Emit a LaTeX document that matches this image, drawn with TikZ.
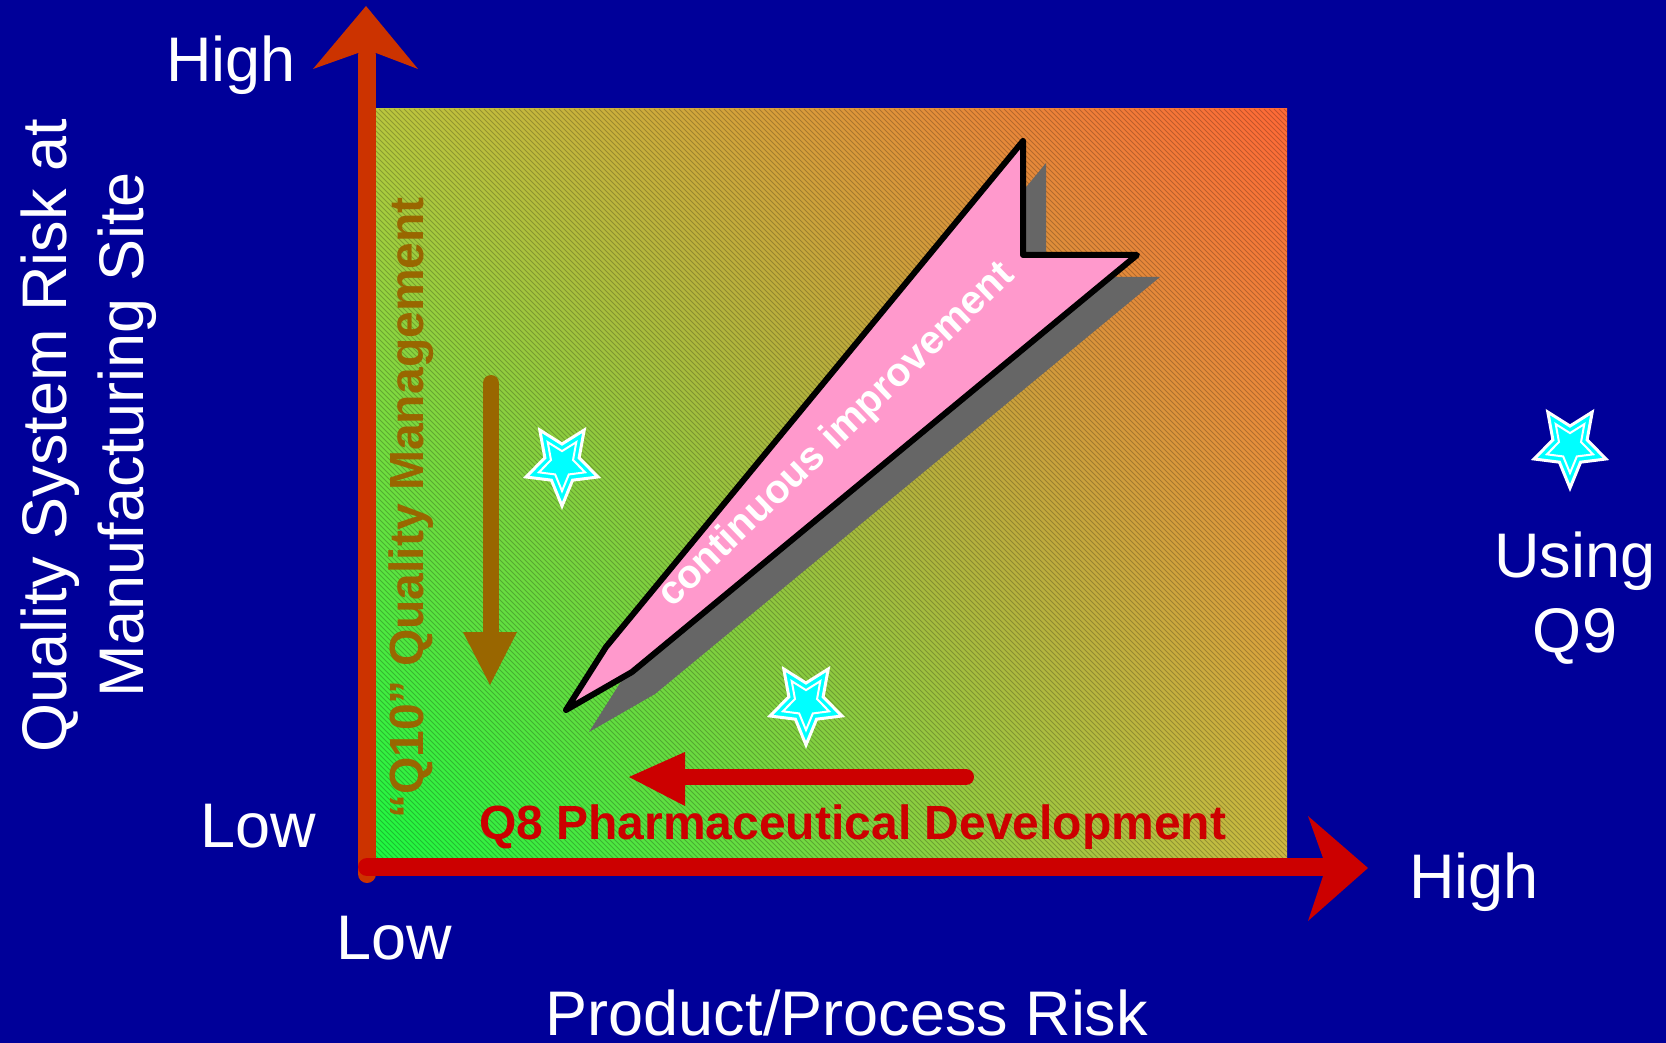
\documentclass[tikz,border=0pt]{standalone}
\usepackage{fontspec}
\setmainfont{Liberation Sans}
\usetikzlibrary{shadings}
\definecolor{navybg}{RGB}{0,0,153}
\definecolor{axisorange}{RGB}{204,51,0}
\definecolor{axisred}{RGB}{204,0,0}
\definecolor{qbrown}{RGB}{153,102,0}
\definecolor{ciPink}{RGB}{255,153,204}
\definecolor{shadowgray}{RGB}{102,102,102}
\definecolor{starcyan}{RGB}{0,255,255}
\definecolor{gLL}{RGB}{25,250,65}
\definecolor{gUL}{RGB}{185,200,62}
\definecolor{gUR}{RGB}{255,105,55}
\definecolor{gLR}{RGB}{205,185,65}
\begin{document}
\begin{tikzpicture}[x=1pt,y=-1pt,
  axislabel/.style={text=white,inner sep=0pt,font=\fontsize{63}{76}\selectfont},
  qlabel/.style={inner sep=0pt,font=\bfseries\fontsize{48}{58}\selectfont},
  hatch/.style={draw=black,opacity=0.22,line width=0.9pt},
  qstar/.pic={
    \filldraw[fill=starcyan,draw=white,line width=3pt,line join=miter,xscale=0.9]
      (90:42) -- (126:20) -- (162:42) -- (198:20) -- (234:42) -- (270:20)
      -- (306:42) -- (342:20) -- (18:42) -- (54:20) -- cycle;
    \draw[draw=white,line width=2pt,line join=miter,xscale=0.9]
      (90:27) -- (126:12.9) -- (162:27) -- (198:12.9) -- (234:27) -- (270:12.9)
      -- (306:27) -- (342:12.9) -- (18:27) -- (54:12.9) -- cycle;
  }]
% page
\fill[navybg] (0,0) rectangle (1666,1043);
\useasboundingbox (0,0) rectangle (1666,1043);

% risk field with diagonal gradient and fine hatching
\shade[lower left=gLL,upper left=gUL,upper right=gUR,lower right=gLR]
  (367,109) rectangle (1287,867);
\begin{scope}
  \clip (367,109) rectangle (1287,867);
  \foreach \c in {-500,-495,...,1180}{
    \draw[hatch] (\c+109,109) -- (\c+867,867);
  }
\end{scope}

% Q10 downward arrow
\coordinate (qtenTop) at (491,383);
\coordinate (qtenEnd) at (491,640);
\draw[qbrown,line width=16pt,line cap=round] (qtenTop) -- (qtenEnd);
\fill[qbrown] (463,632) -- (517,632) -- (490,685) -- cycle;

% Q8 leftward arrow
\coordinate (qeightStart) at (966,777);
\coordinate (qeightEnd) at (680,777);
\draw[axisred,line width=16pt,line cap=round] (qeightStart) -- (qeightEnd);
\fill[axisred] (685,752) -- (685,806) -- (629,777) -- cycle;

% stars
\pic (starA) at (562,464) {qstar};
\pic (starB) at (806,703) {qstar};
\pic (starC) at (1570,446) {qstar};

% continuous improvement arrow with its drop shadow
\def\ciarrow{(1023,141) -- (1023,255) -- (1137,255) -- (632,672) -- (566,710) -- (606,647) -- cycle}
\fill[shadowgray,shift={(23,22)}] \ciarrow;
\filldraw[fill=ciPink,draw=black,line width=6pt,line join=round] \ciarrow;
\node[qlabel,text=white,font=\bfseries\fontsize{40}{48}\selectfont,rotate=44,anchor=base]
  (ci) at (844,443) {continuous improvement};

% axis labels inside the field
\node[qlabel,text=qbrown,rotate=90,anchor=base] (qten) at (423,508) {“Q10” Quality Management};
\node[qlabel,text=axisred,anchor=base west] (qeight) at (479,839) {Q8 Pharmaceutical Development};

% axes
\coordinate (origin) at (367,874);
\coordinate (yTop) at (367,55);
\draw[axisorange,line width=18pt,line cap=round] (origin) -- (yTop);
\fill[axisorange] (366,6) -- (418,69) -- (376,53) -- (358,53) -- (313,69) -- cycle;
\coordinate (xStart) at (367,867);
\coordinate (xEnd) at (1325,867);
\draw[axisred,line width=18pt,line cap=round] (xStart) -- (xEnd);
\fill[axisred] (1368,868) -- (1308,921) -- (1323,876) -- (1323,858) -- (1308,816) -- cycle;

% outer labels
\node[axislabel,anchor=base west] (yhigh) at (166,82) {High};
\node[axislabel,anchor=base west] (ylow) at (200,847) {Low};
\node[axislabel,anchor=base west] (xlow) at (336,959) {Low};
\node[axislabel,anchor=base west] (xhigh) at (1409,898) {High};
\node[axislabel,anchor=base] (xtitle) at (847,1035) {Product/Process Risk};
\node[axislabel,anchor=base,rotate=90] (ytitleA) at (66,436) {Quality System Risk at};
\node[axislabel,anchor=base,rotate=90] (ytitleB) at (143,435) {Manufacturing Site};
\node[axislabel,anchor=base] (usingA) at (1575,577) {Using};
\node[axislabel,anchor=base] (usingB) at (1575,652) {Q9};
\end{tikzpicture}
\end{document}
